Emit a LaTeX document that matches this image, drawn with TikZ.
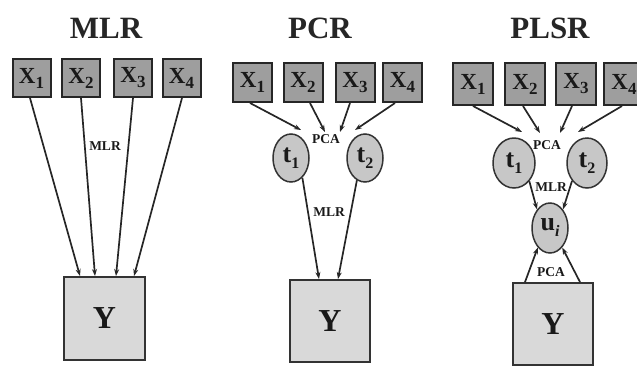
\documentclass[tikz,border=0pt]{standalone}
\usepackage{fontspec}
\setmainfont{Liberation Serif}
\usetikzlibrary{shapes.geometric,arrows.meta}
\newcommand\xsub[1]{\raisebox{-5pt}{\fontsize{17}{17}\selectfont #1}}
\newcommand\tsub[1]{\raisebox{-6pt}{\fontsize{16}{16}\selectfont #1}}
\begin{document}
\begin{tikzpicture}[x=1pt,y=-1pt,
  ttl/.style={font=\fontsize{31}{31}\selectfont\bfseries, text=black!85},
  xbox/.style={draw=black!85, line width=2pt, fill=black!38, minimum width=38pt, minimum height=38pt, inner sep=0pt, font=\fontsize{23}{23}\selectfont\bfseries, text=black!90},
  ybox/.style={draw=black!80, line width=1.9pt, fill=black!15, minimum width=80pt, minimum height=82pt, inner sep=0pt, font=\fontsize{32}{32}\selectfont\bfseries, text=black!90},
  tell/.style={ellipse, draw=black!80, line width=1.5pt, fill=black!22, inner sep=0pt, font=\fontsize{26}{26}\selectfont\bfseries, text=black!90},
  lab/.style={font=\fontsize{13.5}{13.5}\selectfont\bfseries, inner sep=1pt, text=black!90},
  arr/.style={-{Stealth[length=7pt,width=5pt]}, draw=black!85, line width=1.7pt}]
\useasboundingbox (0,0) rectangle (637,365);

% ---------- MLR ----------
\node[ttl] (tm) at (106,28) {MLR};
\node[xbox] (m1) at (31.5,78) {X\xsub{1}};
\node[xbox] (m2) at (81,78) {X\xsub{2}};
\node[xbox] (m3) at (133,78) {X\xsub{3}};
\node[xbox] (m4) at (181.5,78) {X\xsub{4}};
\node[ybox, minimum width=81pt, minimum height=83pt] (my) at (104.5,318.5) {Y};
\node[lab] (mlab) at (105,146) {MLR};
\draw[arr] ([xshift=-1.5pt]m1.south) -- ([xshift=-24.5pt]my.north);
\draw[arr] (m2.south) -- ([xshift=-9.5pt]my.north);
\draw[arr] (m3.south) -- ([xshift=11.5pt]my.north);
\draw[arr] ([xshift=0.5pt]m4.south) -- ([xshift=29.5pt]my.north);

% ---------- PCR ----------
\node[ttl] (tp) at (320,28) {PCR};
\node[xbox, minimum width=39pt, minimum height=39pt] (p1) at (252.5,82.5) {X\xsub{1}};
\node[xbox, minimum width=39pt, minimum height=39pt] (p2) at (303,82.5) {X\xsub{2}};
\node[xbox, minimum width=39pt, minimum height=39pt] (p3) at (355,82.5) {X\xsub{3}};
\node[xbox, minimum width=39pt, minimum height=39pt] (p4) at (402.5,82.5) {X\xsub{4}};
\node[lab] (ppca) at (326,139) {PCA};
\node[tell, minimum width=36pt, minimum height=48pt] (pt1) at (291,158) {t\tsub{1}};
\node[tell, minimum width=36pt, minimum height=48pt] (pt2) at (365,158) {t\tsub{2}};
\node[ybox] (py) at (330,321) {Y};
\node[lab] (pmlr) at (329,212) {MLR};
\draw[arr] ([xshift=-2.5pt]p1.south) -- ([xshift=-25pt,yshift=9pt]ppca.center);
\draw[arr] ([xshift=7pt]p2.south) -- ([xshift=-1pt,yshift=7pt]ppca.center);
\draw[arr] ([xshift=-5pt]p3.south) -- ([xshift=14pt,yshift=7pt]ppca.center);
\draw[arr] ([xshift=-7.5pt]p4.south) -- ([xshift=29pt,yshift=9pt]ppca.center);
\draw[arr] (pt1.-60) -- ([xshift=-11pt]py.north);
\draw[arr] (pt2.250) -- ([xshift=8pt]py.north);

% ---------- PLSR ----------
\node[ttl] (ts) at (550,28) {PLSR};
\node[xbox, minimum width=40pt, minimum height=42pt] (s1) at (473,84) {X\xsub{1}};
\node[xbox, minimum width=40pt, minimum height=42pt] (s2) at (525,84) {X\xsub{2}};
\node[xbox, minimum width=40pt, minimum height=42pt] (s3) at (576,84) {X\xsub{3}};
\node[xbox, minimum width=40pt, minimum height=42pt] (s4) at (624,84) {X\xsub{4}};
\node[lab] (spca) at (547,145) {PCA};
\node[tell, minimum width=42pt, minimum height=50pt] (st1) at (514,163) {t\tsub{1}};
\node[tell, minimum width=40pt, minimum height=50pt] (st2) at (587,163) {t\tsub{2}};
\node[lab] (smlr) at (551,187) {MLR};
\node[tell, minimum width=36pt, minimum height=50pt] (su) at (550,228) {u\tsub{\itshape i}};
\node[lab] (spca2) at (551,272) {PCA};
\node[ybox] (sy) at (553,324) {Y};
\draw[arr] (s1.south) -- ([xshift=-25pt,yshift=13pt]spca.center);
\draw[arr] ([xshift=-2pt]s2.south) -- ([xshift=-7pt,yshift=12pt]spca.center);
\draw[arr] ([xshift=-4pt]s3.south) -- ([xshift=13pt,yshift=12pt]spca.center);
\draw[arr] ([xshift=-2pt]s4.south) -- ([xshift=31pt,yshift=13pt]spca.center);
\draw[arr] (st1.-50) -- (su.125);
\draw[arr] (st2.-130) -- (su.55);
\draw[arr] ([xshift=-28pt]sy.north) -- (su.238);
\draw[arr] ([xshift=27pt]sy.north) -- (su.-58);
\end{tikzpicture}
\end{document}
